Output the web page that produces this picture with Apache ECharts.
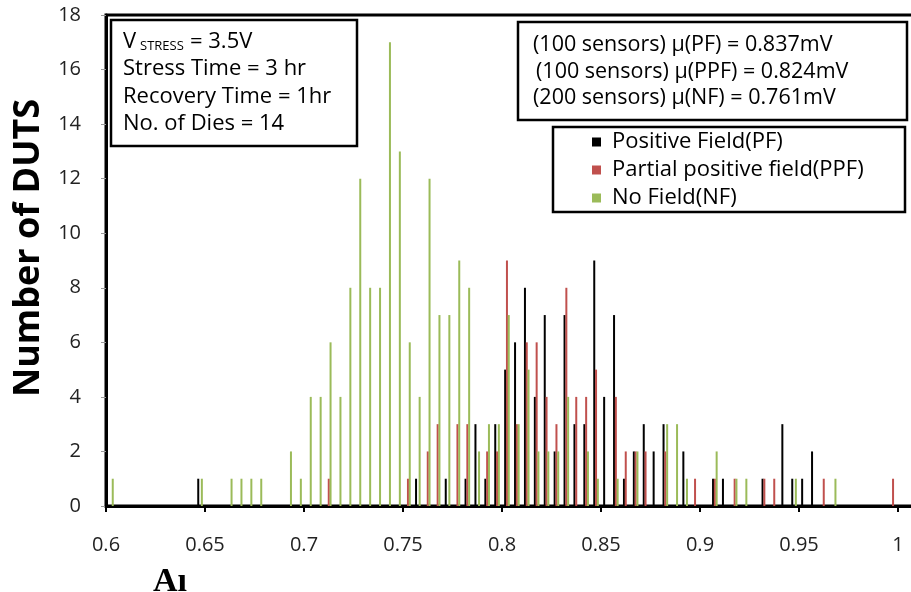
<!DOCTYPE html>
<html><head><meta charset="utf-8">
<script src="https://cdn.jsdelivr.net/npm/echarts@6/dist/echarts.min.js"></script>
<style>html,body{margin:0;padding:0;background:#fff}#c{width:911px;height:592px}</style>
</head><body><div id="c"></div>
<script>
// Histogram bins (lower edges), bin width 0.005
const BIN_WIDTH = 0.005;
const bins = [
  0.600,0.605,0.610,0.615,0.620,0.625,0.630,0.635,0.640,0.645,
  0.650,0.655,0.660,0.665,0.670,0.675,0.680,0.685,0.690,0.695,
  0.700,0.705,0.710,0.715,0.720,0.725,0.730,0.735,0.740,0.745,
  0.750,0.755,0.760,0.765,0.770,0.775,0.780,0.785,0.790,0.795,
  0.800,0.805,0.810,0.815,0.820,0.825,0.830,0.835,0.840,0.845,
  0.850,0.855,0.860,0.865,0.870,0.875,0.880,0.885,0.890,0.895,
  0.900,0.905,0.910,0.915,0.920,0.925,0.930,0.935,0.940,0.945,
  0.950,0.955,0.960,0.965,0.970,0.975,0.980,0.985,0.990,0.995
];
// Positive Field (PF)
const pfCounts = [
  0,0,0,0,0,0,0,0,0,1,
  0,0,0,0,0,0,0,0,0,0,
  0,0,0,0,0,0,0,0,0,0,
  0,1,0,0,1,0,1,3,1,3,
  5,6,8,4,7,2,7,3,3,9,
  4,7,1,2,3,2,3,0,2,0,
  0,1,1,0,0,0,1,0,3,1,
  1,2,0,0,0,0,0,0,0,0
];
// Partial positive field (PPF)
const ppfCounts = [
  0,0,0,0,0,0,0,0,0,0,
  0,0,0,0,0,0,0,0,0,0,
  0,0,1,0,0,0,0,0,0,0,
  1,0,2,3,0,3,3,0,2,2,
  9,3,6,6,4,3,8,4,4,5,
  0,4,2,2,2,0,2,0,0,1,
  0,1,0,1,0,0,1,1,0,0,
  0,0,1,0,0,0,0,0,0,1
];
// No Field (NF)
const nfCounts = [
  1,0,0,0,0,0,0,0,0,1,
  0,0,1,1,1,1,0,0,2,1,
  4,4,6,4,8,12,8,8,17,13,
  6,4,12,7,7,9,8,2,3,3,
  7,3,5,2,2,2,4,0,2,1,
  0,1,0,2,0,0,3,3,1,0,
  0,2,0,1,1,0,0,0,0,1,
  0,0,0,1,0,0,0,0,0,0
];
const seriesNames = ['Positive Field(PF)', 'Partial positive field(PPF)', 'No Field(NF)'];
const seriesColors = ['#000000', '#c0504d', '#9bbb59'];
const statLines = [
  '(100 sensors) \u00b5(PF) = 0.837mV',
  '(100 sensors) \u00b5(PPF) = 0.824mV',
  '(200 sensors) \u00b5(NF) = 0.761mV'
];
const condLines = ['Stress Time = 3 hr', 'Recovery Time = 1hr', 'No. of Dies = 14'];

const FONT = '"Open Sans", "Liberation Sans", sans-serif';
function toData(counts) {
  return bins.map((b, i) => [b + BIN_WIDTH / 2, counts[i]]);
}
const allCounts = [pfCounts, ppfCounts, nfCounts];

const chart = echarts.init(document.getElementById('c'), null, {renderer: 'canvas'});
const graphic = [
  {type: 'rect', shape: {x: 111, y: 20, width: 246, height: 126}, style: {fill: null, stroke: '#000', lineWidth: 2.5}},
  {type: 'rect', shape: {x: 518, y: 22, width: 389, height: 98}, style: {fill: null, stroke: '#000', lineWidth: 2.5}},
  {type: 'rect', shape: {x: 553, y: 127, width: 352, height: 85}, style: {fill: null, stroke: '#000', lineWidth: 2.5}},
  {type: 'text', left: 123, top: 31, style: {text: 'V', font: '22px ' + FONT, fill: '#000'}},
  {type: 'text', left: 140, top: 40, style: {text: 'STRESS', font: '13px ' + FONT, fill: '#000'}},
  {type: 'text', left: 190, top: 31, style: {text: '= 3.5V', font: '22px ' + FONT, fill: '#000'}},
  {type: 'text', x: 29, y: 248, rotation: Math.PI / 2, style: {text: 'Number of DUTS', font: 'bold 36px ' + FONT, fill: '#000', align: 'center', verticalAlign: 'middle'}},
  {type: 'text', left: 153, top: 565, style: {text: 'A\u0131', font: 'bold 34px "Liberation Serif", serif', fill: '#000'}}
];
condLines.forEach((t, i) => graphic.push({type: 'text', left: 123, top: 58 + i * 27.5, style: {text: t, font: '22px ' + FONT, fill: '#000'}}));
statLines.forEach((t, i) => graphic.push({type: 'text', left: i === 1 ? 536 : 533, top: 34 + i * 26.5, style: {text: t, font: '21.5px ' + FONT, fill: '#000'}}));

chart.setOption({
  animation: false,
  grid: {left: 106, top: 15, width: 891, height: 491, show: true, borderColor: '#000', borderWidth: 3,
         containLabel: false, outerBoundsMode: 'none'},
  legend: {
    orient: 'vertical', left: 592, top: 131, itemWidth: 9, itemHeight: 9, itemGap: 6, padding: 0,
    icon: 'rect', data: seriesNames,
    textStyle: {fontSize: 22, fontFamily: FONT, color: '#000', padding: [0, 0, 0, 6]}
  },
  xAxis: {
    type: 'value', min: 0.6, max: 1.05, interval: 0.05,
    axisLine: {show: true, lineStyle: {color: '#000', width: 3}},
    axisTick: {show: true, inside: false, length: 6, lineStyle: {color: '#000', width: 2}},
    axisLabel: {fontSize: 20, fontFamily: FONT, color: '#222', margin: 29},
    splitLine: {show: false}
  },
  yAxis: {
    type: 'value', min: 0, max: 18, interval: 2,
    axisLine: {show: true, lineStyle: {color: '#000', width: 3}},
    axisTick: {show: true, inside: false, length: 5, lineStyle: {color: '#999', width: 1}},
    axisLabel: {fontSize: 20, fontFamily: FONT, color: '#222', margin: 25},
    splitLine: {show: false}
  },
  series: seriesNames.map((name, i) => ({
    name, type: 'bar', data: toData(allCounts[i]),
    barWidth: 2, barGap: '-10%',
    itemStyle: {color: seriesColors[i]}
  })),
  graphic
});
</script></body></html>
